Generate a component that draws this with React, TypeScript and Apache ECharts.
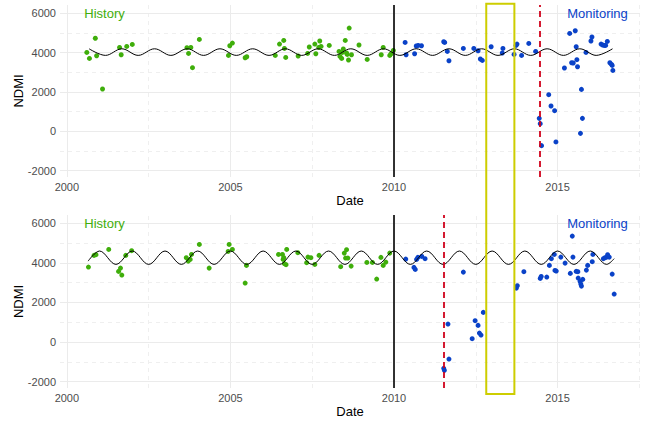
import React, { useEffect, useRef } from "react";
import * as echarts from "echarts";

// ---- axis ticks / grid values ----
const xTickLabels = [2000, 2005, 2010, 2015];
const xMinorGrid = [2002.5, 2007.5, 2012.5, 2017.5];
const yTickLabels = [-2000, 0, 2000, 4000, 6000];
const yMinorGrid = [-1000, 1000, 3000, 5000];

// ---- panel 1 data ----
const topHistory: number[][] = [
  [2000.61, 4010], [2000.69, 3706], [2000.87, 4730], [2000.91, 3843], [2001.09, 2150],
  [2001.61, 4264], [2001.66, 3893], [2001.83, 4315], [2002.0, 4416], [2003.67, 4250],
  [2003.72, 3960], [2003.79, 4264], [2003.84, 3234], [2004.05, 4670], [2004.94, 3858],
  [2004.98, 4350], [2005.06, 4487], [2005.45, 3741], [2005.5, 3792], [2006.37, 3858],
  [2006.5, 4436], [2006.63, 4619], [2006.65, 4213], [2006.69, 3756], [2007.07, 3827],
  [2007.36, 3960], [2007.41, 4284], [2007.58, 4436], [2007.61, 3944], [2007.7, 4264],
  [2007.73, 4589], [2007.77, 4315], [2008.02, 4365], [2008.32, 4061], [2008.35, 3807],
  [2008.4, 3706], [2008.42, 4010], [2008.45, 4183], [2008.51, 4619], [2008.55, 3980],
  [2008.57, 3909], [2008.61, 3624], [2008.63, 5249], [2008.7, 3893], [2008.93, 4386],
  [2009.18, 3655], [2009.61, 3893], [2009.67, 4264], [2009.87, 3858], [2009.91, 3944],
  [2009.98, 4112],
];
const topMonitoring: number[][] = [
  [2010.34, 4518], [2010.37, 3893], [2010.63, 3944], [2010.68, 4335], [2010.74, 4365],
  [2010.84, 4350], [2011.52, 4553], [2011.55, 4518], [2011.63, 4061], [2011.68, 3589],
  [2012.12, 4213], [2012.44, 4213], [2012.57, 4096], [2012.64, 3675], [2012.7, 3604],
  [2012.97, 4299], [2013.31, 3980], [2013.33, 4213], [2013.67, 3909], [2013.73, 4365],
  [2013.76, 4436], [2013.9, 3858], [2014.12, 4467], [2014.33, 4061], [2014.44, 660],
  [2014.47, 391], [2014.51, -726], [2014.73, 1863], [2014.8, 1289], [2014.91, 1051],
  [2014.95, -538], [2015.21, 3218], [2015.37, 4975], [2015.43, 3487], [2015.48, 3472],
  [2015.54, 5112], [2015.57, 4299], [2015.59, 3640], [2015.61, 3284], [2015.7, -102],
  [2015.73, 2132], [2015.76, 660], [2015.87, 4010], [2016.02, 4589], [2016.05, 4792],
  [2016.33, 4436], [2016.38, 4386], [2016.43, 4365], [2016.47, 4365], [2016.52, 4569],
  [2016.6, 3487], [2016.65, 3401], [2016.67, 3350], [2016.69, 3096],
];
// fitted harmonic model, read at its peaks and troughs
const topFit: number[][] = [
  [2000.68, 4195], [2001.18, 3860], [2001.68, 4195], [2002.18, 3860], [2002.68, 4195],
  [2003.18, 3860], [2003.68, 4195], [2004.18, 3860], [2004.68, 4195], [2005.18, 3860],
  [2005.68, 4195], [2006.18, 3860], [2006.68, 4195], [2007.18, 3860], [2007.68, 4195],
  [2008.18, 3860], [2008.68, 4195], [2009.18, 3860], [2009.68, 4195], [2010.18, 3860],
  [2010.68, 4195], [2011.18, 3860], [2011.68, 4195], [2012.18, 3860], [2012.68, 4195],
  [2013.18, 3860], [2013.68, 4195], [2014.18, 3860], [2014.68, 4195], [2015.18, 3860],
  [2015.68, 4195], [2016.18, 3860], [2016.68, 4195],
];
const topBreak = 2014.47;

// ---- panel 2 data ----
const bottomHistory: number[][] = [
  [2000.66, 3788], [2000.83, 4379], [2000.89, 4414], [2001.28, 4682], [2001.58, 3571],
  [2001.64, 3737], [2001.68, 3384], [2001.8, 4379], [2001.98, 4616], [2003.65, 4263],
  [2003.71, 4091], [2003.77, 4177], [2003.81, 4429], [2004.05, 4934], [2004.35, 3737],
  [2004.93, 4581], [2004.96, 4934], [2005.06, 4682], [2005.45, 2980], [2005.49, 3874],
  [2006.47, 4429], [2006.59, 4429], [2006.61, 4177], [2006.63, 4263], [2006.65, 3960],
  [2006.7, 3909], [2006.72, 4682], [2007.06, 4515], [2007.33, 4010], [2007.37, 4293],
  [2007.46, 4263], [2007.58, 3924], [2007.71, 4379], [2008.37, 3808], [2008.48, 4495],
  [2008.52, 4243], [2008.55, 4667], [2008.59, 4243], [2008.69, 3838], [2009.17, 4025],
  [2009.34, 4025], [2009.47, 3182], [2009.6, 4278], [2009.67, 3874], [2009.75, 4040],
  [2009.87, 4495],
];
const bottomMonitoring: number[][] = [
  [2010.36, 4192], [2010.61, 3773], [2010.65, 3672], [2010.69, 4177], [2010.73, 4278],
  [2010.85, 4328], [2010.95, 4212], [2011.52, -1328], [2011.54, -1429], [2011.65, 909],
  [2011.68, -859], [2012.12, 3535], [2012.39, 172], [2012.48, 1081], [2012.57, 843],
  [2012.61, 455], [2012.66, 354], [2012.73, 1500], [2013.74, 2727], [2013.77, 2848],
  [2013.97, 3556], [2014.47, 3217], [2014.5, 3318], [2014.67, 3283], [2014.75, 3874],
  [2014.81, 4212], [2014.9, 4429], [2014.92, 3621], [2014.96, 3586], [2015.1, 4293],
  [2015.23, 3990], [2015.39, 3470], [2015.45, 5354], [2015.47, 4293], [2015.57, 3571],
  [2015.62, 3556], [2015.63, 3232], [2015.69, 3066], [2015.71, 2929], [2015.73, 2828],
  [2015.77, 3167], [2015.88, 3636], [2015.92, 3874], [2016.06, 4061], [2016.08, 4429],
  [2016.4, 4212], [2016.45, 4263], [2016.5, 4293], [2016.53, 4414], [2016.58, 4293],
  [2016.67, 3434], [2016.73, 2424],
];
const bottomFit: number[][] = [
  [2000.65, 4090], [2001.0, 4600], [2001.5, 3925], [2002.0, 4600], [2002.5, 3925],
  [2003.0, 4600], [2003.5, 3925], [2004.0, 4600], [2004.5, 3925], [2005.0, 4600],
  [2005.5, 3925], [2006.0, 4600], [2006.5, 3925], [2007.0, 4600], [2007.5, 3925],
  [2008.0, 4600], [2008.5, 3925], [2009.0, 4600], [2009.5, 3925], [2010.0, 4600],
  [2010.5, 3925], [2011.0, 4600], [2011.5, 3925], [2012.0, 4600], [2012.5, 3925],
  [2013.0, 4600], [2013.5, 3925], [2014.0, 4600], [2014.5, 3925], [2015.0, 4600],
  [2015.5, 3925], [2016.0, 4600], [2016.5, 3925], [2016.73, 4215],
];
const bottomBreak = 2011.51;

const historyEnd = 2010;
const highlight = { start: 2012.82, end: 2013.68, top: 6480, bottom: -2620 };
const labelHistory = { x: 2001.15, y: 6000 };
const labelMonitoring = { x: 2016.22, y: 6000 };

const GREEN = "#3FAE0B";
const BLUE = "#0A42C8";
const FONT = "'Liberation Sans', Arial, Helvetica, sans-serif";
const X_MIN = 1999.79;
const X_MAX = 2017.52;
const Y_MIN = -2320;
const Y_MAX = 6420;

export default function App() {
  const ref = useRef<HTMLDivElement>(null);

  useEffect(() => {
    document.body.style.margin = "0";
    const chart = echarts.init(ref.current!, null, { renderer: "svg" });

    const grids = [
      { left: 60, top: 5, width: 580, height: 172 },
      { left: 60, top: 215, width: 580, height: 173 },
    ];

    const xAxes = grids.map((_, i) => ({
      type: "value",
      gridIndex: i,
      min: X_MIN,
      max: X_MAX,
      name: "Date",
      nameLocation: "middle",
      nameGap: 17,
      nameMoveOverlap: false,
      nameTextStyle: { color: "#000", fontSize: 13, fontFamily: FONT },
      axisLine: { show: false },
      axisTick: { show: false },
      splitLine: { show: false },
      axisLabel: {
        customValues: xTickLabels,
        color: "#4D4D4D",
        fontSize: 11,
        fontFamily: FONT,
        margin: 4,
        formatter: (v: number) => String(Math.round(v)),
      },
    }));

    const yAxes = grids.map((_, i) => ({
      type: "value",
      gridIndex: i,
      min: Y_MIN,
      max: Y_MAX,
      name: "NDMI",
      nameLocation: "middle",
      nameGap: 35,
      nameMoveOverlap: false,
      nameTextStyle: { color: "#000", fontSize: 13, fontFamily: FONT },
      axisLine: { show: false },
      axisTick: { show: false },
      splitLine: { show: false },
      axisLabel: {
        customValues: yTickLabels,
        color: "#4D4D4D",
        fontSize: 11,
        fontFamily: FONT,
        margin: 4,
        formatter: (v: number) => String(Math.round(v)),
      },
    }));

    const makeGridLineData = () => [
      ...xTickLabels.map((v) => ({ xAxis: v, lineStyle: { color: "#EBEBEB", width: 1, type: "solid" } })),
      ...xMinorGrid.map((v) => ({ xAxis: v, lineStyle: { color: "#EFEFEF", width: 1, type: [4, 4] } })),
      ...yTickLabels.map((v) => ({ yAxis: v, lineStyle: { color: "#EBEBEB", width: 1, type: "solid" } })),
      ...yMinorGrid.map((v) => ({ yAxis: v, lineStyle: { color: "#EFEFEF", width: 1, type: [4, 4] } })),
    ];

    const panels = [
      { hist: topHistory, mon: topMonitoring, fit: topFit, brk: topBreak },
      { hist: bottomHistory, mon: bottomMonitoring, fit: bottomFit, brk: bottomBreak },
    ];

    const series: any[] = [];
    panels.forEach((p, i) => {
      series.push({
        type: "line",
        xAxisIndex: i,
        yAxisIndex: i,
        data: [],
        z: 0,
        silent: true,
        markLine: {
          z: 0,
          silent: true,
          symbol: ["none", "none"],
          label: { show: false },
          animation: false,
          data: makeGridLineData(),
        },
      });
      series.push({
        type: "scatter",
        xAxisIndex: i,
        yAxisIndex: i,
        data: p.hist,
        symbolSize: 5,
        itemStyle: { color: GREEN, opacity: 1, borderWidth: 0 },
        z: 3,
      });
      series.push({
        type: "scatter",
        xAxisIndex: i,
        yAxisIndex: i,
        data: p.mon,
        symbolSize: 5,
        itemStyle: { color: BLUE, opacity: 1, borderWidth: 0 },
        z: 3,
      });
      series.push({
        type: "line",
        xAxisIndex: i,
        yAxisIndex: i,
        data: p.fit,
        smooth: 0.36,
        symbol: "none",
        showSymbol: false,
        lineStyle: { color: "#000", width: 1, type: "solid" },
        z: 4,
      });
      series.push({
        type: "line",
        xAxisIndex: i,
        yAxisIndex: i,
        data: [],
        z: 5,
        silent: true,
        markLine: {
          z: 6,
          silent: true,
          symbol: ["none", "none"],
          label: { show: false },
          animation: false,
          data: [
            { xAxis: historyEnd, lineStyle: { color: "#000", width: 1.6, type: "solid" } },
            { xAxis: p.brk, lineStyle: { color: "#D0021B", width: 1.8, type: [6, 4] } },
          ],
        },
      });
    });

    chart.setOption({
      animation: false,
      grid: grids,
      xAxis: xAxes,
      yAxis: yAxes,
      series,
    });

    const p1 = chart.convertToPixel({ gridIndex: 0 } as any, [highlight.start, highlight.top]) as number[];
    const p2 = chart.convertToPixel({ gridIndex: 1 } as any, [highlight.end, highlight.bottom]) as number[];

    const texts: any[] = [];
    [0, 1].forEach((g) => {
      const h = chart.convertToPixel({ gridIndex: g } as any, [labelHistory.x, labelHistory.y]) as number[];
      const m = chart.convertToPixel({ gridIndex: g } as any, [labelMonitoring.x, labelMonitoring.y]) as number[];
      texts.push({
        type: "text",
        x: h[0],
        y: h[1],
        z: 20,
        style: {
          text: "History",
          fill: GREEN,
          font: `13px ${FONT}`,
          textAlign: "center",
          textVerticalAlign: "middle",
        },
      });
      texts.push({
        type: "text",
        x: m[0],
        y: m[1],
        z: 20,
        style: {
          text: "Monitoring",
          fill: BLUE,
          font: `13px ${FONT}`,
          textAlign: "center",
          textVerticalAlign: "middle",
        },
      });
    });

    chart.setOption({
      graphic: [
        {
          type: "rect",
          z: 30,
          shape: { x: p1[0], y: p1[1], width: p2[0] - p1[0], height: p2[1] - p1[1] },
          style: { fill: "none", stroke: "#CDCD00", lineWidth: 2 },
        },
        ...texts,
      ],
    });

    return () => chart.dispose();
  }, []);

  return <div ref={ref} style={{ width: 651, height: 422 }} />;
}
